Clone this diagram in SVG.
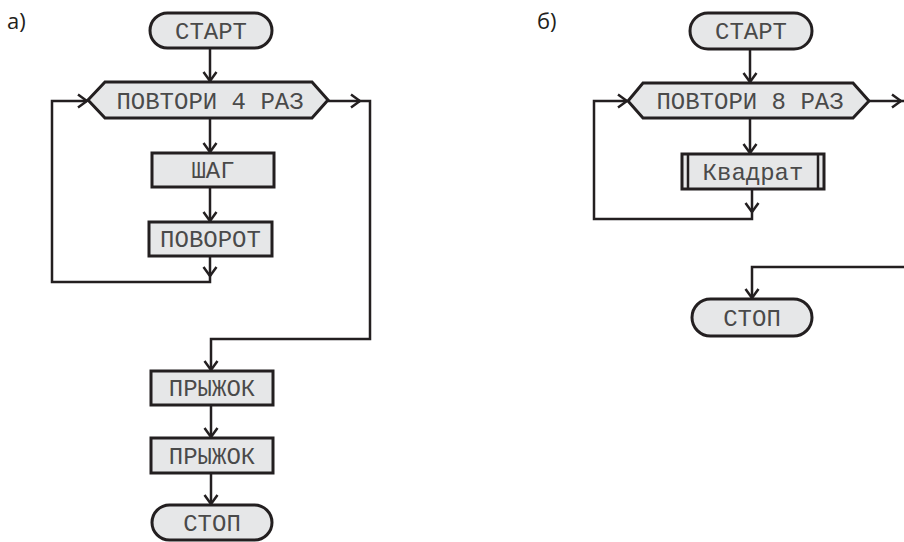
<svg xmlns="http://www.w3.org/2000/svg" width="904" height="542" viewBox="0 0 904 542">
<style>
.box{fill:#e6e7e8;stroke:#231f20;stroke-width:3}
.ln{fill:none;stroke:#231f20;stroke-width:2.5}
.t{font-family:"Liberation Mono","Courier New",monospace;font-size:24px;fill:#4a4a4a;text-anchor:middle}
.lbl{font-family:"Open Sans","Liberation Sans",sans-serif;font-size:22px;fill:#231f20}
</style>
<defs>
<marker id="ah" markerUnits="userSpaceOnUse" viewBox="0 0 12 16" markerWidth="12" markerHeight="16" refX="10" refY="8" orient="auto">
<path d="M1,1.5 L10,8 L1,14.5" fill="none" stroke="#231f20" stroke-width="2.5"/>
</marker>
</defs>
<rect width="904" height="542" fill="#fff"/>
<text class="lbl" x="7" y="29">а)</text>
<text class="lbl" x="537" y="29">б)</text>
<g id="connectors">
<line class="ln" x1="210" y1="48" x2="210" y2="81" marker-end="url(#ah)"/>
<line class="ln" x1="210" y1="118" x2="210" y2="152" marker-end="url(#ah)"/>
<line class="ln" x1="210" y1="187" x2="210" y2="221" marker-end="url(#ah)"/>
<line class="ln" x1="210" y1="256" x2="210" y2="276" marker-end="url(#ah)"/>
<path class="ln" d="M210,275 V282 H52 V101 H87" marker-end="url(#ah)"/>
<line class="ln" x1="328" y1="101" x2="360" y2="101" marker-end="url(#ah)"/>
<path class="ln" d="M358,101 H370 V339 H211 V370" marker-end="url(#ah)"/>
<line class="ln" x1="211" y1="405" x2="211" y2="437" marker-end="url(#ah)"/>
<line class="ln" x1="211" y1="473" x2="211" y2="504" marker-end="url(#ah)"/>
<line class="ln" x1="750" y1="49" x2="750" y2="82" marker-end="url(#ah)"/>
<line class="ln" x1="750" y1="118" x2="750" y2="153" marker-end="url(#ah)"/>
<line class="ln" x1="752" y1="189" x2="752" y2="212" marker-end="url(#ah)"/>
<path class="ln" d="M752,211 V219 H594 V101 H627" marker-end="url(#ah)"/>
<line class="ln" x1="869" y1="101" x2="901" y2="101" marker-end="url(#ah)"/>
<path class="ln" d="M899,101 H912 V267 H752 V298" marker-end="url(#ah)"/>
</g>
<g id="start-a"><rect class="box" x="150" y="13" width="122" height="35" rx="17.5"/><text class="t" x="211" y="38.5">СТАРТ</text></g>
<g id="loop-a"><polygon class="box" points="88,100 105,82 312,82 328,100 312,118 105,118"/><text class="t" x="210" y="108.5">ПОВТОРИ 4 РАЗ</text></g>
<g id="step-a"><rect class="box" x="152" y="153" width="122" height="34"/><text class="t" x="213" y="178">ШАГ</text></g>
<g id="turn-a"><rect class="box" x="149" y="222" width="123" height="34"/><text class="t" x="210.5" y="247">ПОВОРОТ</text></g>
<g id="jump1-a"><rect class="box" x="151" y="371" width="122" height="34"/><text class="t" x="212" y="396">ПРЫЖОК</text></g>
<g id="jump2-a"><rect class="box" x="151" y="438" width="122" height="35"/><text class="t" x="212" y="463.5">ПРЫЖОК</text></g>
<g id="stop-a"><rect class="box" x="152" y="505" width="120" height="35" rx="17.5"/><text class="t" x="212" y="530.5">СТОП</text></g>
<g id="start-b"><rect class="box" x="690" y="13" width="122" height="36" rx="18"/><text class="t" x="751" y="39">СТАРТ</text></g>
<g id="loop-b"><polygon class="box" points="628,101 643,83 853,83 869,101 853,118 643,118"/><text class="t" x="750" y="109">ПОВТОРИ 8 РАЗ</text></g>
<g id="square-b"><rect class="box" x="682" y="154" width="142" height="35"/><line class="ln" x1="688" y1="154" x2="688" y2="189"/><line class="ln" x1="818" y1="154" x2="818" y2="189"/><text class="t" x="753" y="179.5">Квадрат</text></g>
<g id="stop-b"><rect class="box" x="692" y="299" width="120" height="37" rx="18.5"/><text class="t" x="752" y="325.5">СТОП</text></g>
</svg>
